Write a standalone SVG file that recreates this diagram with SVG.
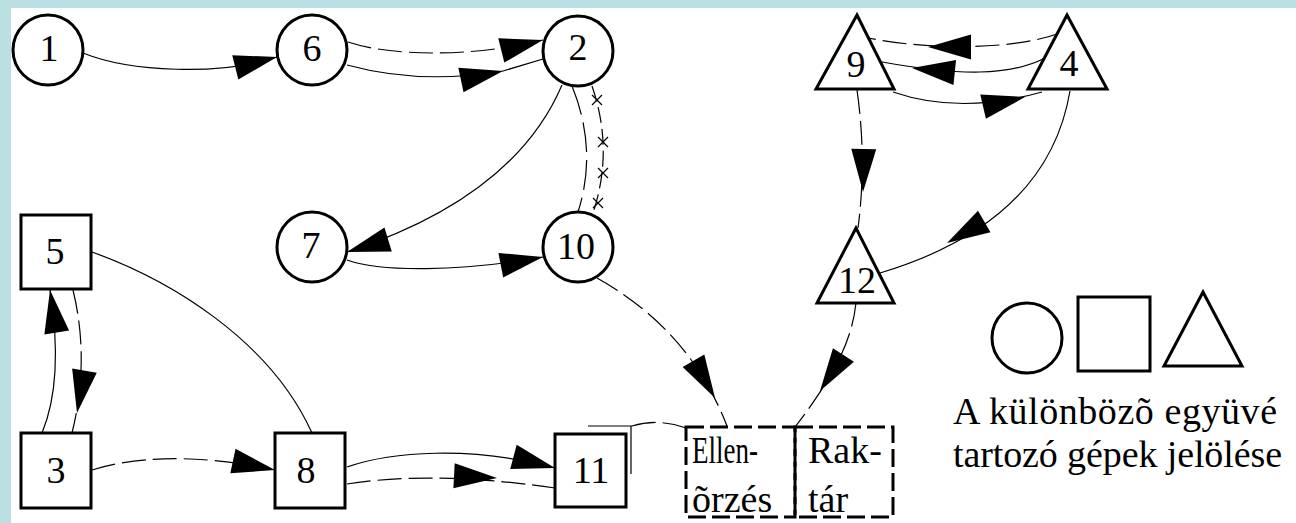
<svg xmlns="http://www.w3.org/2000/svg" width="1296" height="523" viewBox="0 0 1296 523">
<defs>
<style>
.node{fill:#fff;stroke:#000;stroke-width:3}
.lbl{font-family:"Liberation Serif","Times New Roman",serif;font-size:38px;text-anchor:middle;fill:#000}
.txt{font-family:"Liberation Serif","Times New Roman",serif;font-size:38px;fill:#000}
.e{fill:none;stroke:#000;stroke-width:1.2}
.d{stroke-dasharray:24 7}
.x{fill:none;stroke:#000;stroke-width:1.2}
.box{fill:none;stroke:#000;stroke-width:3;stroke-dasharray:18 6}
</style>
<!-- filled arrowhead, tip at origin pointing along +x -->
<polygon id="ah" points="0,0 -43,-12.5 -43,12.5" fill="#000"/>
</defs>

<rect width="1296" height="523" fill="#bae0e3"/>
<rect x="11" y="8" width="1285" height="515" fill="#fff"/>

<!-- connectors -->
<g id="connectors">
  <!-- 1 -> 6 -->
  <path class="e" d="M83,53 C130,72 220,76 277,57"/>
  <use href="#ah" transform="translate(277,57) rotate(-14)"/>
  <!-- 6 -> 2 dashed -->
  <path class="e d" d="M348,42 C390,56 470,58 543,40"/>
  <use href="#ah" transform="translate(543,40) rotate(-14)"/>
  <!-- 6 -> 2 solid -->
  <path class="e" d="M347,65 Q420,85 503,71 L543,59"/>
  <use href="#ah" transform="translate(503,71) rotate(-12)"/>
  <!-- 2 -> 7 -->
  <path class="e" d="M562,85 C530,160 460,215 347,252"/>
  <use href="#ah" transform="translate(347,252) rotate(163)"/>
  <!-- 2 - 10 dashed -->
  <path class="e" style="stroke-dasharray:30 8" d="M572,86 Q598,150 578,212"/>
  <!-- 2 - 10 marked line -->
  <path class="e" style="stroke-dasharray:16 6" d="M592,86 Q614,150 593,213"/>
  <path class="x" d="M592,95 l10,10 M602,95 l-10,10 M598,137 l10,10 M608,137 l-10,10 M598,168 l10,10 M608,168 l-10,10 M593,198 l10,10 M603,198 l-10,10"/>
  <!-- 7 -> 10 -->
  <path class="e" d="M347,260 C380,272 460,272 543,257"/>
  <use href="#ah" transform="translate(543,257) rotate(-11)"/>
  <!-- 10 -> Ellenőrzés -->
  <path class="e d" d="M597,278 Q690,330 727,426"/>
  <use href="#ah" transform="translate(715,398) rotate(60)"/>
  <!-- 12 -> Raktár -->
  <path class="e d" d="M856,303 C852,340 835,375 795,427"/>
  <use href="#ah" transform="translate(820,391) rotate(123)"/>
  <!-- 9 -> 4 -->
  <path class="e" d="M893,92 Q960,115 1042,92"/>
  <use href="#ah" transform="translate(1025,97) rotate(-13)"/>
  <!-- 4 -> 9 solid -->
  <path class="e" d="M1045,58 C1010,76 960,76 882,62"/>
  <use href="#ah" transform="translate(912,68) rotate(186)"/>
  <!-- 4 -> 9 dashed -->
  <path class="e d" d="M1060,33 C1020,48 940,52 868,38"/>
  <use href="#ah" transform="translate(928,47) rotate(180)"/>
  <!-- 9 -> 12 dashed -->
  <path class="e d" d="M857,90 Q867,160 858,228"/>
  <use href="#ah" transform="translate(863,192) rotate(91)"/>
  <!-- 4 -> 12 -->
  <path class="e" d="M1070,91 C1055,180 990,240 880,273"/>
  <use href="#ah" transform="translate(947,243) rotate(150)"/>
  <!-- 3 -> 5 -->
  <path class="e" d="M42,433 Q64,380 50,290"/>
  <use href="#ah" transform="translate(50,290) rotate(-99)"/>
  <!-- 5 -> 3 dashed -->
  <path class="e d" d="M73,290 Q90,360 72,433"/>
  <use href="#ah" transform="translate(77,413) rotate(100)"/>
  <!-- 5 - 8 -->
  <path class="e" d="M92,252 C170,280 270,340 312,433"/>
  <!-- 3 -> 8 dashed -->
  <path class="e d" d="M92,470 C130,458 190,452 275,470"/>
  <use href="#ah" transform="translate(275,470) rotate(12)"/>
  <!-- 8 -> 11 solid -->
  <path class="e" d="M347,467 C390,452 470,445 555,468"/>
  <use href="#ah" transform="translate(555,468) rotate(15)"/>
  <!-- 8 -> 11 dashed -->
  <path class="e d" d="M347,484 C390,477 460,474 555,488"/>
  <use href="#ah" transform="translate(497,478) rotate(3)"/>
  <!-- 11 -> Ellenőrzés -->
  <path class="e" d="M588,426 H632 M631,426 V474"/>
  <path class="e d" d="M632,426 Q658,418 686,428"/>
</g>

<!-- circle machines -->
<g id="n1"><circle class="node" cx="48" cy="50" r="35"/><text class="lbl" x="49" y="61">1</text></g>
<g id="n6"><circle class="node" cx="312" cy="50" r="35"/><text class="lbl" x="312" y="61">6</text></g>
<g id="n2"><circle class="node" cx="578" cy="51" r="35"/><text class="lbl" x="578" y="60">2</text></g>
<g id="n7"><circle class="node" cx="312" cy="247" r="35"/><text class="lbl" x="311" y="258">7</text></g>
<g id="n10"><circle class="node" cx="578" cy="247" r="35"/><text class="lbl" x="576" y="259">10</text></g>

<!-- square machines -->
<g id="n5"><rect class="node" x="21" y="215" width="70" height="74"/><text class="lbl" x="55" y="264">5</text></g>
<g id="n3"><rect class="node" x="21" y="433" width="70" height="75"/><text class="lbl" x="56" y="483">3</text></g>
<g id="n8"><rect class="node" x="275" y="433" width="70" height="75"/><text class="lbl" x="306" y="483">8</text></g>
<g id="n11"><rect class="node" x="555" y="434" width="71" height="73"/><text class="lbl" x="591" y="483">11</text></g>

<!-- triangle machines -->
<g id="n9"><polygon class="node" points="857,15 816,89 894,89"/><text class="lbl" x="856" y="77">9</text></g>
<g id="n4"><polygon class="node" points="1067,15 1028,89 1107,89"/><text class="lbl" x="1069" y="76">4</text></g>
<g id="n12"><polygon class="node" points="856,228 817,303 894,303"/><text class="lbl" x="857" y="293">12</text></g>

<!-- inspection and storage -->
<g id="ellenorzes">
  <rect class="box" x="686" y="427" width="109" height="90"/>
  <text class="txt" x="692" y="463" textLength="66" lengthAdjust="spacingAndGlyphs">Ellen-</text>
  <text class="txt" x="692" y="512">õrzés</text>
</g>
<g id="raktar">
  <rect class="box" x="795" y="427" width="98" height="90"/>
  <text class="txt" x="808" y="463">Rak-</text>
  <text class="txt" x="808" y="512">tár</text>
</g>

<!-- legend -->
<g id="legend">
  <circle class="node" cx="1027" cy="338" r="35"/>
  <rect class="node" x="1078" y="297" width="72" height="74"/>
  <polygon class="node" points="1203,292 1164,366 1242,366"/>
  <text class="txt" x="953" y="424" textLength="324">A különbözõ együvé</text>
  <text class="txt" x="953" y="467" textLength="329">tartozó gépek jelölése</text>
</g>
</svg>
